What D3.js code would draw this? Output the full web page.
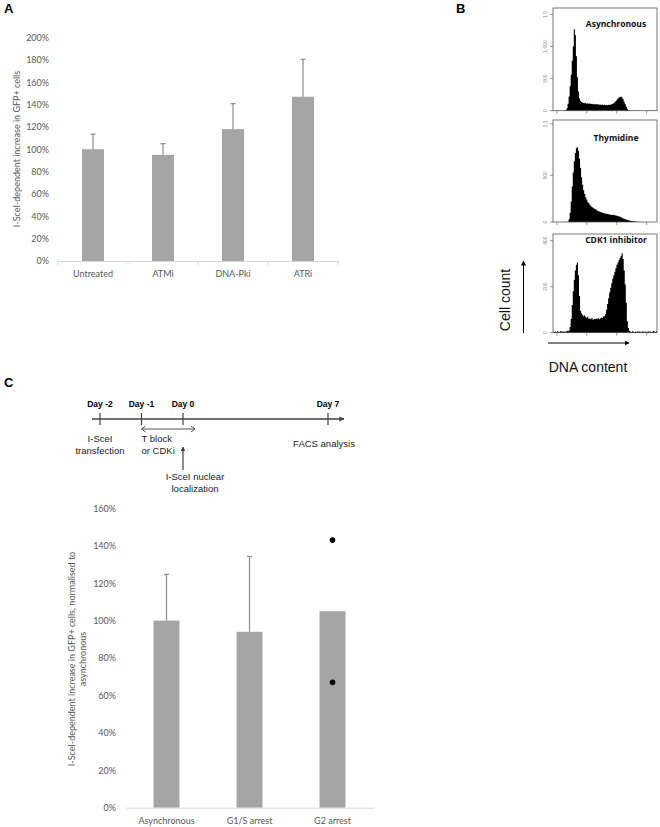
<!DOCTYPE html>
<html><head><meta charset="utf-8">
<script src="https://cdn.jsdelivr.net/npm/d3@7"></script>
<style>body{margin:0;background:#fff}svg{display:block}</style>
</head><body>
<script>
// ---------- DATA ----------
const catsA = ["Untreated", "ATMi", "DNA-Pki", "ATRi"];
const valsA = [1.00, 0.95, 1.18, 1.47];
const errTopA = [1.134, 1.05, 1.408, 1.805];
const ticksA = [0, 0.2, 0.4, 0.6, 0.8, 1.0, 1.2, 1.4, 1.6, 1.8, 2.0];

const catsC = ["Asynchronous", "G1/S arrest", "G2 arrest"];
const valsC = [1.00, 0.94, 1.05];
const errTopC = [1.247, 1.343, null];
const dotsC = [[], [], [1.43, 0.67]];
const ticksC = [0, 0.2, 0.4, 0.6, 0.8, 1.0, 1.2, 1.4, 1.6];

const histNames = ["Asynchronous", "Thymidine", "CDK1 inhibitor"];
const histAsync = [0,0,0,0,0,0,0,0,0,0,0,0,
  10,40,110,220,380,560,780,1000,1270,1180,850,520,300,190,150,135,125,
  120,115,125,110,118,108,112,104,110,100,106,98,104,96,100,92,98,90,95,88,92,86,90,84,92,88,95,100,108,118,
  130,150,170,190,205,215,220,205,180,140,100,60,30,12,4,
  0,0,0,0,0,0,0,0,0,0,0,0,0,0,0,0,0,0,0,0,0,0,0,0,0,0];
const histThym = [0,0,0,0,0,0,0,0,0,0,0,0,0,0,
  5,30,100,220,380,530,650,740,790,800,760,680,580,480,400,340,300,265,240,215,200,185,172,
  160,152,145,138,130,124,118,112,108,104,
  100,96,92,90,88,85,82,80,78,76,75,
  78,72,70,68,64,60,55,50,44,38,
  34,30,26,22,19,16,13,11,9,7,6,5,4,3,2,1,
  0,0,0,0,0,0,0,0,0,0,0,0,0,0,0,0];
const histCDK = [0,3,5,2,6,4,3,7,5,4,6,3,5,8,6,10,
  25,60,120,180,230,270,295,305,250,160,95,
  85,78,72,76,68,64,70,60,62,58,64,56,60,58,62,60,64,58,62,66,64,70,72,80,
  100,125,150,175,195,215,235,250,265,280,295,305,315,325,335,345,320,270,210,130,50,20,8,
  5,3,6,4,2,5,3,6,4,5,3,4,6,2,5,4,3,6,4,5,3,4,7,5,3,6];
const histMax = [1600, 1092, 429];
const histTicks = [[0, 500, 1000, 1500], [0, 500, 1050], [0, 200, 400]];
const histTickLabels = [["0", "500", "1,000", "1.5"], ["0", "500", "1.1"], ["0", "200", "400"]];
const histXTicks = [8, 80, 152, 224];

const tlDays = ["Day -2", "Day -1", "Day 0", "Day 7"];
const tlDayNum = [-2, -1, 0, 7];

// ---------- SVG ----------
const svg = d3.select("body").append("svg").attr("width", 660).attr("height", 827);
const barColor = "#a5a5a5", errColor = "#8c8c8c", axisColor = "#d9d9d9", labColor = "#595959";
const fontXL = "Lato, 'Open Sans', sans-serif";
const fontAr = "'Liberation Sans', Arial, sans-serif";
const pct = d => Math.round(d * 100) + "%";

function panelLabel(t, x, y) {
  svg.append("text").attr("x", x).attr("y", y).text(t)
    .attr("font-family", fontAr).attr("font-weight", "bold").attr("font-size", 13).attr("fill", "#000");
}
panelLabel("A", 4, 13); panelLabel("B", 456, 13); panelLabel("C", 4, 387);

// ---------- Panel A ----------
(function () {
  const x = d3.scaleBand().domain(catsA).range([58, 338]).paddingInner(0.686).paddingOuter(0.343);
  const y = d3.scaleLinear().domain([0, 2]).range([261, 37.5]);
  const g = svg.append("g");
  const yAx = g.append("g").attr("transform", "translate(52,0)")
    .call(d3.axisLeft(y).tickValues(ticksA).tickFormat(pct).tickSize(0).tickPadding(3));
  yAx.select(".domain").remove();
  yAx.selectAll("text").attr("font-family", fontXL).attr("font-size", 9).attr("fill", labColor);
  g.selectAll("rect.bar").data(catsA).join("rect").attr("class", "bar")
    .attr("x", d => x(d)).attr("width", x.bandwidth())
    .attr("y", (d, i) => y(valsA[i])).attr("height", (d, i) => y(0) - y(valsA[i])).attr("fill", barColor);
  catsA.forEach((c, i) => {
    const cx = x(c) + x.bandwidth() / 2;
    g.append("line").attr("x1", cx).attr("x2", cx).attr("y1", y(valsA[i])).attr("y2", y(errTopA[i])).attr("stroke", errColor).attr("stroke-width", 1.2);
    g.append("line").attr("x1", cx - 2.5).attr("x2", cx + 2.5).attr("y1", y(errTopA[i])).attr("y2", y(errTopA[i])).attr("stroke", errColor).attr("stroke-width", 1.2);
  });
  const xAx = g.append("g").attr("transform", `translate(0,${y(0)})`)
    .call(d3.axisBottom(x).tickSize(0).tickPadding(10));
  xAx.select(".domain").attr("stroke", axisColor);
  xAx.selectAll("text").attr("font-family", fontXL).attr("font-size", 9).attr("fill", labColor);
  const bounds = [58, 128, 198, 268, 338];
  g.selectAll("line.tk").data(bounds).join("line").attr("class", "tk")
    .attr("x1", d => d).attr("x2", d => d).attr("y1", y(0)).attr("y2", y(0) + 4).attr("stroke", axisColor);
  g.append("text").attr("transform", `translate(20,149) rotate(-90)`).attr("text-anchor", "middle")
    .attr("font-family", fontXL).attr("font-size", 9).attr("fill", labColor)
    .text("I-SceI-dependent increase in GFP+ cells");
})();

// ---------- Panel B ----------
(function () {
  const boxes = [[8, 110.7], [120, 222], [234, 332.7]];
  const data = [histAsync, histThym, histCDK];
  const x = d3.scaleLinear().domain([0, 250]).range([553, 657]);
  const binW = 2.5;
  boxes.forEach((b, k) => {
    const y = d3.scaleLinear().domain([0, histMax[k]]).range([b[1], b[0]]);
    const g = svg.append("g");
    const vals = data[k].concat([data[k][data[k].length - 1]]);
    const area = d3.area().x((d, i) => x(i * binW)).y0(y(0)).y1(d => y(d)).curve(d3.curveStepAfter);
    g.append("path").datum(vals).attr("d", area).attr("fill", "#000");
    g.append("rect").attr("x", x(0)).attr("y", b[0]).attr("width", x(250) - x(0)).attr("height", b[1] - b[0])
      .attr("fill", "none").attr("stroke", "#555").attr("stroke-width", 0.8);
    const yAx = g.append("g").attr("transform", `translate(${x(0)},0)`)
      .call(d3.axisLeft(y).tickValues(histTicks[k]).tickFormat((d, i) => histTickLabels[k][i]).tickSize(3).tickPadding(2));
    yAx.select(".domain").remove();
    yAx.selectAll("line").attr("stroke", "#555").attr("stroke-width", 0.6);
    yAx.selectAll(".tick").attr("transform", null);
    yAx.selectAll(".tick line").attr("transform", d => `translate(0,${y(d)})`);
    yAx.selectAll(".tick text").attr("font-family", fontAr).attr("font-size", 5).attr("fill", "#888")
      .attr("text-anchor", "middle").attr("x", 0).attr("y", 0).attr("dy", 0)
      .attr("transform", d => `translate(-6,${y(d)}) rotate(-90)`);
    const xAx = g.append("g").attr("transform", `translate(0,${b[1]})`)
      .call(d3.axisBottom(x).tickValues(histXTicks).tickSize(3).tickFormat(""));
    xAx.select(".domain").remove();
    xAx.selectAll("line").attr("stroke", "#555").attr("stroke-width", 0.6);
    g.append("text").attr("x", 616).attr("y", b[0] + [19, 21, 9][k]).attr("text-anchor", "middle")
      .attr("font-family", "'Open Sans', sans-serif").attr("font-weight", "bold").attr("font-size", 8.5).attr("fill", "#111")
      .text(histNames[k]);
  });
  svg.append("defs").append("marker").attr("id", "ah").attr("viewBox", "0 0 10 10").attr("refX", 9).attr("refY", 5)
    .attr("markerWidth", 5).attr("markerHeight", 5).attr("orient", "auto")
    .append("path").attr("d", "M0,0 L10,5 L0,10 z").attr("fill", "#000");
  svg.append("line").attr("x1", 523.5).attr("x2", 523.5).attr("y1", 333).attr("y2", 261).attr("stroke", "#000").attr("stroke-width", 1).attr("marker-end", "url(#ah)");
  svg.append("line").attr("x1", 548).attr("x2", 629).attr("y1", 343).attr("y2", 343).attr("stroke", "#000").attr("stroke-width", 1).attr("marker-end", "url(#ah)");
  svg.append("text").attr("transform", "translate(510,300) rotate(-90)").attr("text-anchor", "middle")
    .attr("font-family", fontAr).attr("font-size", 14).attr("fill", "#111").text("Cell count");
  svg.append("text").attr("x", 588).attr("y", 372).attr("text-anchor", "middle")
    .attr("font-family", fontAr).attr("font-size", 14).attr("fill", "#111").text("DNA content");
})();

// ---------- Panel C timeline ----------
(function () {
  const t = d3.scaleLinear().domain([-2, 0, 7]).range([100, 183, 328]);
  const g = svg.append("g");
  const lc = "#404040";
  g.append("defs").append("marker").attr("id", "ah2").attr("viewBox", "0 0 10 10").attr("refX", 9).attr("refY", 5)
    .attr("markerWidth", 4).attr("markerHeight", 4).attr("orient", "auto")
    .append("path").attr("d", "M0,0 L10,5 L0,10 z").attr("fill", lc);
  g.append("line").attr("x1", 92).attr("x2", 344).attr("y1", 419).attr("y2", 419).attr("stroke", lc).attr("stroke-width", 1.3).attr("marker-end", "url(#ah2)");
  g.selectAll("line.day").data(tlDayNum).join("line").attr("class", "day")
    .attr("x1", d => t(d)).attr("x2", d => t(d)).attr("y1", 413).attr("y2", 425).attr("stroke", lc).attr("stroke-width", 1.2);
  g.selectAll("text.day").data(tlDays).join("text").attr("class", "day")
    .attr("x", (d, i) => t(tlDayNum[i])).attr("y", 407).attr("text-anchor", "middle")
    .attr("font-family", fontAr).attr("font-weight", "bold").attr("font-size", 8.5).attr("fill", "#000").text(d => d);
  const a0 = t(-1), a1 = t(0) + 12;
  g.append("path").attr("d", `M${a0},429 L${a1},429`).attr("stroke", lc).attr("stroke-width", 0.9).attr("fill", "none");
  g.append("path").attr("d", `M${a0 + 4},426 L${a0},429 L${a0 + 4},432`).attr("stroke", lc).attr("stroke-width", 0.9).attr("fill", "none");
  g.append("path").attr("d", `M${a1 - 4},426 L${a1},429 L${a1 - 4},432`).attr("stroke", lc).attr("stroke-width", 0.9).attr("fill", "none");
  g.append("line").attr("x1", t(0)).attr("x2", t(0)).attr("y1", 470).attr("y2", 447).attr("stroke", lc).attr("stroke-width", 1.2).attr("marker-end", "url(#ah2)");
  const txt = (lines, x, y, anchor) => {
    const e = g.append("text").attr("x", x).attr("y", y).attr("text-anchor", anchor)
      .attr("font-family", fontAr).attr("font-size", 9.5).attr("fill", "#222");
    lines.forEach((l, i) => e.append("tspan").attr("x", x).attr("dy", i ? 12 : 0).text(l));
  };
  txt(["I-SceI", "transfection"], t(-2), 442, "middle");
  txt(["T block", "or CDKi"], t(-1), 442, "start");
  txt(["FACS analysis"], 324, 447, "middle");
  txt(["I-SceI nuclear", "localization"], 195, 480, "middle");
})();

// ---------- Panel C chart ----------
(function () {
  const x = d3.scaleBand().domain(catsC).range([125, 374]).paddingInner(0.687).paddingOuter(0.3435);
  const y = d3.scaleLinear().domain([0, 1.6]).range([807.7, 508.3]);
  const g = svg.append("g");
  const yAx = g.append("g").attr("transform", "translate(118,0)")
    .call(d3.axisLeft(y).tickValues(ticksC).tickFormat(pct).tickSize(0).tickPadding(2));
  yAx.select(".domain").remove();
  yAx.selectAll("text").attr("font-family", fontXL).attr("font-size", 9).attr("fill", labColor);
  g.selectAll("rect.bar").data(catsC).join("rect").attr("class", "bar")
    .attr("x", d => x(d)).attr("width", x.bandwidth())
    .attr("y", (d, i) => y(valsC[i])).attr("height", (d, i) => y(0) - y(valsC[i])).attr("fill", barColor);
  catsC.forEach((c, i) => {
    const cx = x(c) + x.bandwidth() / 2;
    if (errTopC[i] != null) {
      g.append("line").attr("x1", cx).attr("x2", cx).attr("y1", y(valsC[i])).attr("y2", y(errTopC[i])).attr("stroke", errColor).attr("stroke-width", 1.2);
      g.append("line").attr("x1", cx - 2.5).attr("x2", cx + 2.5).attr("y1", y(errTopC[i])).attr("y2", y(errTopC[i])).attr("stroke", errColor).attr("stroke-width", 1.2);
    }
    dotsC[i].forEach(v => g.append("circle").attr("cx", cx).attr("cy", y(v)).attr("r", 2.8).attr("fill", "#000"));
  });
  const xAx = g.append("g").attr("transform", `translate(0,${y(0)})`)
    .call(d3.axisBottom(x).tickSize(0).tickPadding(10));
  xAx.select(".domain").attr("stroke", axisColor);
  xAx.selectAll("text").attr("font-family", fontXL).attr("font-size", 9).attr("fill", labColor);
  const tt = g.append("text").attr("transform", `translate(75,659) rotate(-90)`).attr("text-anchor", "middle")
    .attr("font-family", fontXL).attr("font-size", 9).attr("fill", labColor);
  tt.append("tspan").attr("x", 0).attr("dy", 0).text("I-SceI-dependent increase in GFP+ cells, normalised to");
  tt.append("tspan").attr("x", 0).attr("dy", 11).text("asynchronous");
})();
</script>
</body></html>
